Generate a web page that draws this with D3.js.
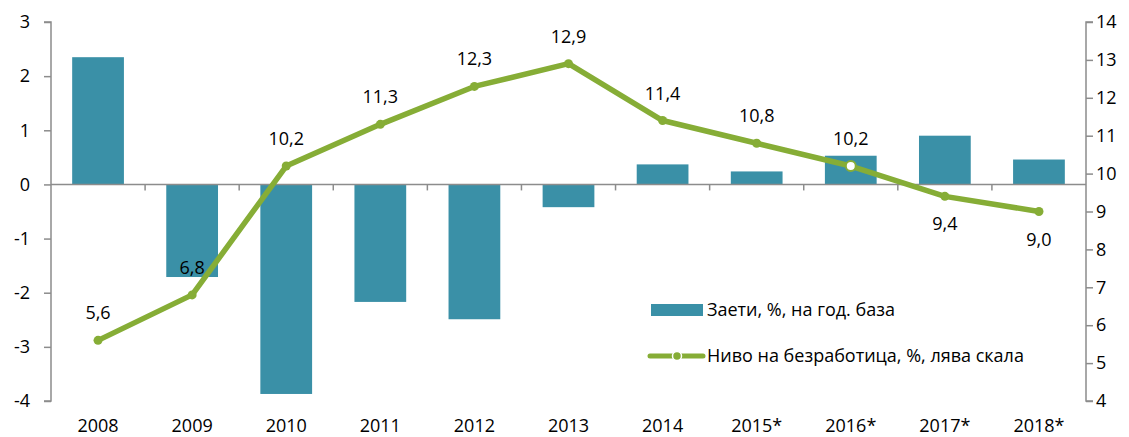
<!DOCTYPE html>
<html lang="bg">
<head>
<meta charset="UTF-8">
<script src="https://d3js.org/d3.v7.min.js"></script>
<style>
  body { margin: 0; background: #fff; }
  text { font-family: "Open Sans", "Liberation Sans", sans-serif; fill: #000; }
</style>
</head>
<body>
<div class="canvas"></div>
<script>
const years = ['2008', '2009', '2010', '2011', '2012', '2013', '2014', '2015*', '2016*', '2017*', '2018*']
const employed = [2.35, -1.71, -3.87, -2.17, -2.49, -0.42, 0.37, 0.24, 0.53, 0.9, 0.46]
const unemployment = [5.6, 6.8, 10.2, 11.3, 12.3, 12.9, 11.4, 10.8, 10.2, 9.4, 9.0]
const labelBelow = [false, false, false, false, false, false, false, false, false, true, true]
const leftTicks = [-4, -3, -2, -1, 0, 1, 2, 3]
const rightTicks = [4, 5, 6, 7, 8, 9, 10, 11, 12, 13, 14]
const seriesNames = ['Заети, %, на год. база', 'Ниво на безработица, %, лява скала']

const W = 1129, H = 437
const [ml, mr, mt, mb] = [51, 43, 22, 36]
const gw = W - ml - mr, gh = H - mt - mb
const barColor = '#3a90a7', lineColor = '#86ad36', axisColor = '#8c8c8c'
const fs = '18px'

const svg = d3.select('.canvas').append('svg').attr('width', W).attr('height', H)
const g = svg.append('g').attr('transform', `translate(${ml},${mt})`)

const x = d3.scaleBand().domain(years).range([0, gw]).paddingInner(0.45).paddingOuter(0.225)
const xb = d3.scaleBand().domain(years).range([0, gw])
const yL = d3.scaleLinear().domain([-4, 3]).range([gh, 0])
const yR = d3.scaleLinear().domain([4, 14]).range([gh, 0])

// bars
g.selectAll('rect.bar').data(employed).enter().append('rect')
  .attr('class', 'bar')
  .attr('x', (d, i) => x(years[i]))
  .attr('width', x.bandwidth())
  .attr('y', d => yL(Math.max(0, d)))
  .attr('height', d => Math.abs(yL(d) - yL(0)))
  .attr('fill', barColor)

// zero line with category ticks
g.append('line').attr('x1', 0).attr('x2', gw).attr('y1', yL(0)).attr('y2', yL(0))
  .attr('stroke', axisColor).attr('stroke-width', 1.5)
g.selectAll('line.xt').data(years.slice(1)).enter().append('line')
  .attr('x1', d => xb(d)).attr('x2', d => xb(d))
  .attr('y1', yL(0)).attr('y2', yL(0) + 6)
  .attr('stroke', axisColor).attr('stroke-width', 1.5)

// left axis
const leftAxis = g.append('g').call(d3.axisLeft(yL).tickValues(leftTicks).tickSize(7).tickPadding(14).tickFormat(d => d))
leftAxis.select('.domain').attr('stroke', axisColor).attr('stroke-width', 1.5).attr('d', `M-7,${yL(3)}H0V${yL(-4)}H-7`)
leftAxis.selectAll('line').attr('stroke', axisColor).attr('stroke-width', 1.5)
leftAxis.selectAll('text').style('font-size', fs).attr('fill', '#000')

// right axis
const rightAxis = g.append('g').attr('transform', `translate(${gw},0)`)
  .call(d3.axisRight(yR).tickValues(rightTicks).tickSize(7).tickPadding(3).tickFormat(d => d))
rightAxis.select('.domain').attr('stroke', axisColor).attr('stroke-width', 1.5).attr('d', `M7,${yR(14)}H0V${yR(4)}H7`)
rightAxis.selectAll('line').attr('stroke', axisColor).attr('stroke-width', 1.5)
rightAxis.selectAll('text').style('font-size', fs).attr('fill', '#000')

// x labels
g.selectAll('text.xl').data(years).enter().append('text')
  .attr('x', d => xb(d) + xb.bandwidth() / 2)
  .attr('y', gh + 31)
  .attr('text-anchor', 'middle')
  .style('font-size', fs)
  .text(d => d)

// line
const line = d3.line().x((d, i) => xb(years[i]) + xb.bandwidth() / 2).y(d => yR(d))
g.append('path').datum(unemployment).attr('d', line)
  .attr('fill', 'none').attr('stroke', lineColor).attr('stroke-width', 5.5).attr('stroke-linejoin', 'round')
g.selectAll('circle.pt').data(unemployment).enter().append('circle')
  .attr('cx', (d, i) => xb(years[i]) + xb.bandwidth() / 2)
  .attr('cy', d => yR(d))
  .attr('r', (d, i) => years[i] === '2016*' ? 5 : 4.5)
  .attr('fill', (d, i) => years[i] === '2016*' ? '#fff' : lineColor)
  .attr('stroke', (d, i) => years[i] === '2016*' ? lineColor : 'none')
  .attr('stroke-width', 2)

g.selectAll('text.dl').data(unemployment).enter().append('text')
  .attr('x', (d, i) => xb(years[i]) + xb.bandwidth() / 2)
  .attr('y', (d, i) => yR(d) + (labelBelow[i] ? 34 : -21))
  .attr('text-anchor', 'middle')
  .style('font-size', fs)
  .text(d => d3.format('.1f')(d).replace('.', ','))

// legend
const lg = svg.append('g')
lg.append('rect').attr('x', 651).attr('y', 304).attr('width', 52).attr('height', 12).attr('fill', barColor)
lg.append('text').attr('x', 707).attr('y', 316).style('font-size', fs).text(seriesNames[0])
lg.append('line').attr('x1', 650).attr('x2', 703).attr('y1', 356).attr('y2', 356)
  .attr('stroke', lineColor).attr('stroke-width', 5).attr('stroke-linecap', 'round')
lg.append('circle').attr('cx', 677).attr('cy', 356).attr('r', 4.5).attr('fill', lineColor).attr('stroke', '#fff').attr('stroke-width', 1.5)
lg.append('text').attr('x', 707).attr('y', 362).style('font-size', fs).text(seriesNames[1])
</script>
</body>
</html>
